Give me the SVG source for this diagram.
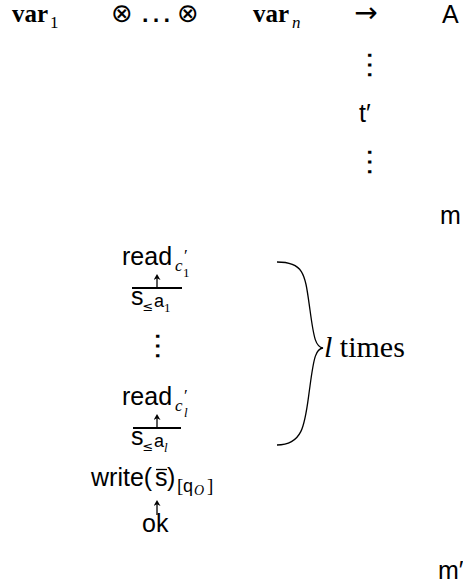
<svg xmlns="http://www.w3.org/2000/svg" width="463" height="586" viewBox="0 0 463 586">
<defs>
<marker id="ah" markerWidth="6" markerHeight="7" refX="3" refY="3.5" orient="auto" markerUnits="userSpaceOnUse"><path d="M0,0 L6,3.5 L0,7 L1.8,3.5 Z" fill="#000"/></marker>
</defs>
<style>
text{fill:#000}
.sans{font-family:"Liberation Sans","DejaVu Sans",sans-serif;font-size:25px}
.serif{font-family:"Liberation Serif","DejaVu Serif",serif;font-size:25px}
.sym{font-family:"DejaVu Sans",sans-serif;font-size:24px}
.b{font-weight:bold}
.it{font-style:italic}
.sub{font-family:"Liberation Serif",serif;font-size:17px}
.ss{font-size:13px}
.vd{font-family:"Liberation Sans",sans-serif;font-size:31px}
.rule{stroke:#000;stroke-width:2}
.conn{stroke:#000;stroke-width:1.3;fill:none}
</style>
<rect width="463" height="586" fill="#fff"/>
<g id="top-row">
<text x="12" y="22" class="serif b">var</text><text x="50" y="28" class="sub">1</text>
<text x="122" y="22" class="sym" style="font-size:26px" text-anchor="middle">⊗</text>
<text x="156" y="22" class="vd" style="font-size:34px" text-anchor="middle">…</text>
<text x="188" y="22" class="sym" style="font-size:26px" text-anchor="middle">⊗</text>
<text x="253" y="22" class="serif b">var</text><text x="292" y="28" class="sub it">n</text>
<text x="366" y="22" class="sym" style="font-size:28px" text-anchor="middle">→</text>
<text x="442" y="23" class="sans">A</text>
</g>
<g id="t-prime">
<text class="vd" text-anchor="middle" transform="translate(367.5,65) rotate(90)">…</text>
<text x="359" y="122" class="sans">t′</text>
<text class="vd" text-anchor="middle" transform="translate(367.5,162) rotate(90)">…</text>
</g>
<g id="m"><text x="440" y="224" class="sans">m</text></g>
<g id="m-prime"><text x="438" y="579" class="sans">m′</text></g>
<g id="read-1">
<text x="122" y="265" class="sans">read</text>
<text x="175" y="271" class="sub it">c</text><text x="184" y="261" class="sub">′</text><text x="183" y="277" class="sub ss">1</text>
</g>
<g id="s-1">
<text x="131" y="305" class="sans">s</text>
<text x="148" y="311" class="sym" style="font-size:13px" text-anchor="middle">≤</text>
<text x="154" y="307" class="sans" style="font-size:18px">a</text><text x="164" y="312" class="sub ss">1</text>
</g>
<g id="vdots"><text class="vd" text-anchor="middle" transform="translate(155.5,346) rotate(90)">…</text></g>
<g id="read-l">
<text x="122" y="405" class="sans">read</text>
<text x="175" y="411" class="sub it">c</text><text x="184" y="401" class="sub">′</text><text x="184" y="417" class="sub it ss">l</text>
</g>
<g id="s-l">
<text x="131" y="445" class="sans">s</text>
<text x="148" y="451" class="sym" style="font-size:13px" text-anchor="middle">≤</text>
<text x="154" y="447" class="sans" style="font-size:18px">a</text><text x="164" y="452" class="sub it ss">l</text>
</g>
<g id="write">
<text x="91" y="486" class="sans">write(</text><text x="155" y="486" class="sans">s</text><text x="167" y="486" class="sans">)</text>
<text x="177" y="492" class="serif" style="font-size:19px">[</text><text x="183" y="492" class="sans" style="font-size:18px">q</text><text x="194" y="495" class="sub it" style="font-size:14px">O</text><text x="207" y="492" class="serif" style="font-size:19px">]</text>
</g>
<g id="ok"><text x="142" y="532" class="sans">ok</text></g>
<g id="l-times"><text x="324" y="357" class="serif" style="font-size:30px"><tspan class="it">l</tspan> times</text></g>
<g id="connectors">
<line class="rule" x1="132" y1="288" x2="182" y2="288"/>
<line class="conn" x1="157" y1="288" x2="157" y2="277" marker-end="url(#ah)"/>
<line class="rule" x1="133" y1="428" x2="181" y2="428"/>
<line class="conn" x1="157" y1="428" x2="157" y2="417" marker-end="url(#ah)"/>
<line class="conn" x1="156" y1="469.5" x2="167" y2="469.5"/>
<line class="conn" x1="157" y1="515" x2="157" y2="503" marker-end="url(#ah)"/>
<path class="conn" stroke-width="1.8" d="M277,262 C305,262 305,275 310,310 C314,340 316,347 323,348 C316,349 314,356 310,386 C305,421 305,445 277,445"/>
</g>
</svg>
